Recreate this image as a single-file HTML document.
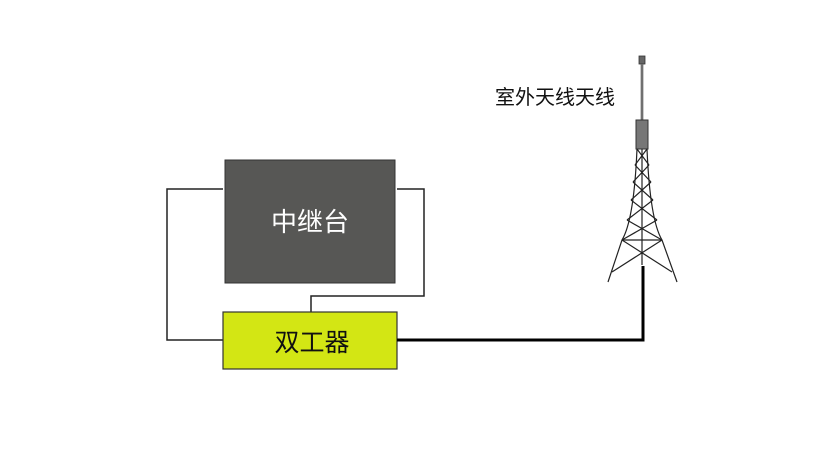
<!DOCTYPE html>
<html><head><meta charset="utf-8"><style>
body{margin:0;background:#fff;width:819px;height:461px;overflow:hidden}
</style></head><body>
<svg width="819" height="461" viewBox="0 0 819 461" xmlns="http://www.w3.org/2000/svg">
<g fill="none" stroke="#222" stroke-width="1.5">
<polyline points="223,189 167,189 167,340 223,340"/>
<polyline points="397,189 424,189 424,296 311,296 311,312"/>
</g>
<rect x="225" y="160" width="170" height="123" fill="#575755" stroke="#333" stroke-width="1"/>
<text x="310" y="231" font-family="Liberation Sans,'Noto Sans CJK SC',sans-serif" font-size="26" fill="#fff" text-anchor="middle">中继台</text>
<rect x="223" y="312" width="174" height="57" fill="#d3e614" stroke="#333" stroke-width="1.2"/>
<text x="312" y="351" font-family="Liberation Sans,'Noto Sans CJK SC',sans-serif" font-size="25" fill="#111" text-anchor="middle">双工器</text>
<polyline points="397,340 643,340 643,266" fill="none" stroke="#000" stroke-width="3"/>
<text x="555" y="104" font-family="Liberation Sans,'Noto Sans CJK SC',sans-serif" font-size="20" fill="#111" text-anchor="middle">室外天线天线</text>
<!-- tower -->
<rect x="639" y="56" width="6" height="8" fill="#666" stroke="#333" stroke-width="0.8"/>
<line x1="642" y1="64" x2="642" y2="120" stroke="#333" stroke-width="2.5"/>
<line x1="642" y1="64" x2="642" y2="120" stroke="#ccc" stroke-width="0.8"/>
<rect x="636" y="120" width="12" height="29" fill="#777" stroke="#333" stroke-width="1"/>
<g fill="none" stroke="#222" stroke-width="1.2">
<path d="M637,149 Q634,220 622,240 L608,282"/>
<path d="M647,149 Q650,220 662,240 L677,282"/>
<line x1="642" y1="149" x2="642" y2="265"/>
<line x1="637" y1="149" x2="649" y2="165"/><line x1="647" y1="149" x2="635" y2="165"/>
<line x1="635" y1="165" x2="651" y2="182"/><line x1="649" y1="165" x2="633" y2="182"/>
<line x1="633" y1="182" x2="653" y2="200"/><line x1="651" y1="182" x2="631" y2="200"/>
<line x1="631" y1="200" x2="657" y2="220"/><line x1="653" y1="200" x2="627" y2="220"/>
<line x1="627" y1="220" x2="662" y2="240"/><line x1="657" y1="220" x2="622" y2="240"/>
<line x1="622" y1="240" x2="662" y2="240"/>
<line x1="622" y1="240" x2="672" y2="272"/>
<line x1="662" y1="240" x2="612" y2="272"/>
</g>
</svg>
</body></html>
